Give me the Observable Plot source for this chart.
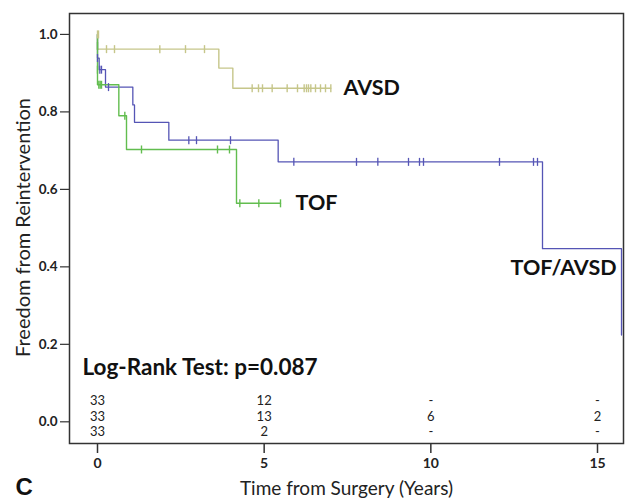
<!DOCTYPE html>
<html>
<head>
<meta charset="utf-8">
<script src="https://cdn.jsdelivr.net/npm/d3@7"></script>
<script src="https://cdn.jsdelivr.net/npm/@observablehq/plot@0.6"></script>
<style>
  html, body { margin: 0; padding: 0; background: #fff; }
  svg { font-family: Lato, "Open Sans", sans-serif; }
</style>
</head>
<body>
<div id="chart"></div>
<script>
// ---- Data ----
// AVSD curve (step points)
const avsdTime = [0, 0, 3.64, 4.06, 7.0];
const avsdSurv = [1.0, 0.962, 0.913, 0.861, 0.861];
const avsdCensorTime = [0, 0.03, 0.27, 0.51, 1.87, 2.64, 3.21, 4.64, 4.83, 4.95, 5.24, 5.69, 6.0, 6.2, 6.27, 6.33, 6.4, 6.54, 6.69, 6.84, 7.0];
const avsdCensorSurv = [1.0, 1.0, 0.962, 0.962, 0.962, 0.962, 0.962, 0.861, 0.861, 0.861, 0.861, 0.861, 0.861, 0.861, 0.861, 0.861, 0.861, 0.861, 0.861, 0.861, 0.861];

// TOF/AVSD curve
const mixTime = [0, 0, 0.05, 0.24, 1.06, 1.11, 2.14, 5.42, 13.35, 15.72];
const mixSurv = [1.0, 0.939, 0.909, 0.864, 0.818, 0.773, 0.727, 0.671, 0.447, 0.224];
const mixCensorTime = [0.0, 0.07, 0.12, 0.33, 2.74, 2.97, 3.99, 5.89, 7.77, 8.41, 9.33, 9.66, 9.78, 12.06, 13.08, 13.2];
const mixCensorSurv = [0.939, 0.909, 0.909, 0.864, 0.727, 0.727, 0.727, 0.671, 0.671, 0.671, 0.671, 0.671, 0.671, 0.671, 0.671, 0.671];

// TOF curve
const tofTime = [0, 0, 0, 0, 0.64, 0.87, 4.17, 5.49];
const tofSurv = [1.0, 0.97, 0.909, 0.87, 0.79, 0.703, 0.564, 0.564];
const tofCensorTime = [0, 0, 0.04, 0.08, 0.12, 0.82, 1.32, 3.6, 3.96, 4.27, 4.84, 5.49];
const tofCensorSurv = [0.97, 0.909, 0.87, 0.87, 0.87, 0.79, 0.703, 0.703, 0.703, 0.564, 0.564, 0.564];

// Numbers at risk
const riskTimes = [0, 5, 10, 15];
const riskRow1 = ["33", "12", "-", "-"];
const riskRow2 = ["33", "13", "6", "2"];
const riskRow3 = ["33", "2", "-", "-"];

// Ticks
const xTicks = [0, 5, 10, 15];
const yTicks = [0, 0.2, 0.4, 0.6, 0.8, 1.0];

// Labels
const groupLabels = ["AVSD", "TOF", "TOF/AVSD"];
const groupLabelX = [7.38, 5.94, 12.39];
const groupLabelY = [0.862, 0.565, 0.397];

// ---- Build tables ----
const zip = (ts, ss) => ts.map((t, i) => ({t, s: ss[i]}));
const avsd = zip(avsdTime, avsdSurv), avsdC = zip(avsdCensorTime, avsdCensorSurv);
const mix = zip(mixTime, mixSurv), mixC = zip(mixCensorTime, mixCensorSurv);
const tof = zip(tofTime, tofSurv), tofC = zip(tofCensorTime, tofCensorSurv);
const riskRows = [riskRow1, riskRow2, riskRow3];
const riskRowY = [0.054, 0.013, -0.026];
const risk = riskRows.flatMap((row, r) => row.map((v, i) => ({t: riskTimes[i], y: riskRowY[r], v})));
const labels = groupLabels.map((g, i) => ({g, x: groupLabelX[i], y: groupLabelY[i]}));

const COL_AVSD = "#c6c68a";
const COL_MIX = "#5555b5";
const COL_TOF = "#62bd4f";

const vtick = {draw(ctx, size) { const h = Math.sqrt(size / Math.PI); ctx.moveTo(0, -h); ctx.lineTo(0, h); }};

const chart = Plot.plot({
  width: 627,
  height: 502,
  marginLeft: 69,
  marginRight: 4,
  marginTop: 13,
  marginBottom: 59,
  style: {fontFamily: "Lato, 'Open Sans', sans-serif", color: "#222", background: "#fff"},
  x: {domain: [-0.84, 15.78]},
  y: {domain: [-0.056, 1.054]},
  marks: [
    Plot.frame({stroke: "#333", strokeWidth: 1.5}),
    Plot.axisX({ticks: xTicks, tickSize: 10, tickPadding: 5, fontSize: 14, fontWeight: "bold", label: null, stroke: "#333", strokeWidth: 1.5}),
    Plot.axisY({ticks: yTicks, tickFormat: d3.format(".1f"), tickSize: 9, tickPadding: 3, fontSize: 13.5, fontWeight: "bold", label: null, stroke: "#333", strokeWidth: 1.2}),
    Plot.line(avsd, {x: "t", y: "s", curve: "step-after", stroke: COL_AVSD, strokeWidth: 1.4}),
    Plot.line(mix, {x: "t", y: "s", curve: "step-after", stroke: COL_MIX, strokeWidth: 1.3}),
    Plot.line(tof, {x: "t", y: "s", curve: "step-after", stroke: COL_TOF, strokeWidth: 1.4}),
    Plot.dot(avsdC, {x: "t", y: "s", symbol: vtick, r: 4, stroke: COL_AVSD, strokeWidth: 1.4}),
    Plot.dot(mixC, {x: "t", y: "s", symbol: vtick, r: 4, stroke: COL_MIX, strokeWidth: 1.3}),
    Plot.dot(tofC, {x: "t", y: "s", symbol: vtick, r: 4, stroke: COL_TOF, strokeWidth: 1.4}),
    Plot.text(labels, {x: "x", y: "y", text: "g", textAnchor: "start", fontSize: 21.5, fontWeight: "bold", fill: "#111"}),
    Plot.text(["Log-Rank Test: p=0.087"], {x: -0.45, y: 0.139, textAnchor: "start", fontSize: 22.5, fontWeight: "bold", fill: "#111"}),
    Plot.text(risk, {x: "t", y: "y", text: "v", fontSize: 13, fill: "#222"}),
    Plot.text(["Freedom from Reintervention"], {frameAnchor: "left", textAnchor: "middle", dx: -46, dy: -1, rotate: -90, fontSize: 20, fill: "#222"}),
    Plot.text(["Time from Surgery (Years)"], {frameAnchor: "bottom", dy: 51, fontSize: 19, fill: "#222"}),
    Plot.text(["C"], {frameAnchor: "bottom-left", dx: -54, dy: 51, textAnchor: "start", fontSize: 24, fontWeight: "bold", fontFamily: "Liberation Sans, Arial, sans-serif", fill: "#111"})
  ]
});
document.getElementById("chart").appendChild(chart);
</script>
</body>
</html>
